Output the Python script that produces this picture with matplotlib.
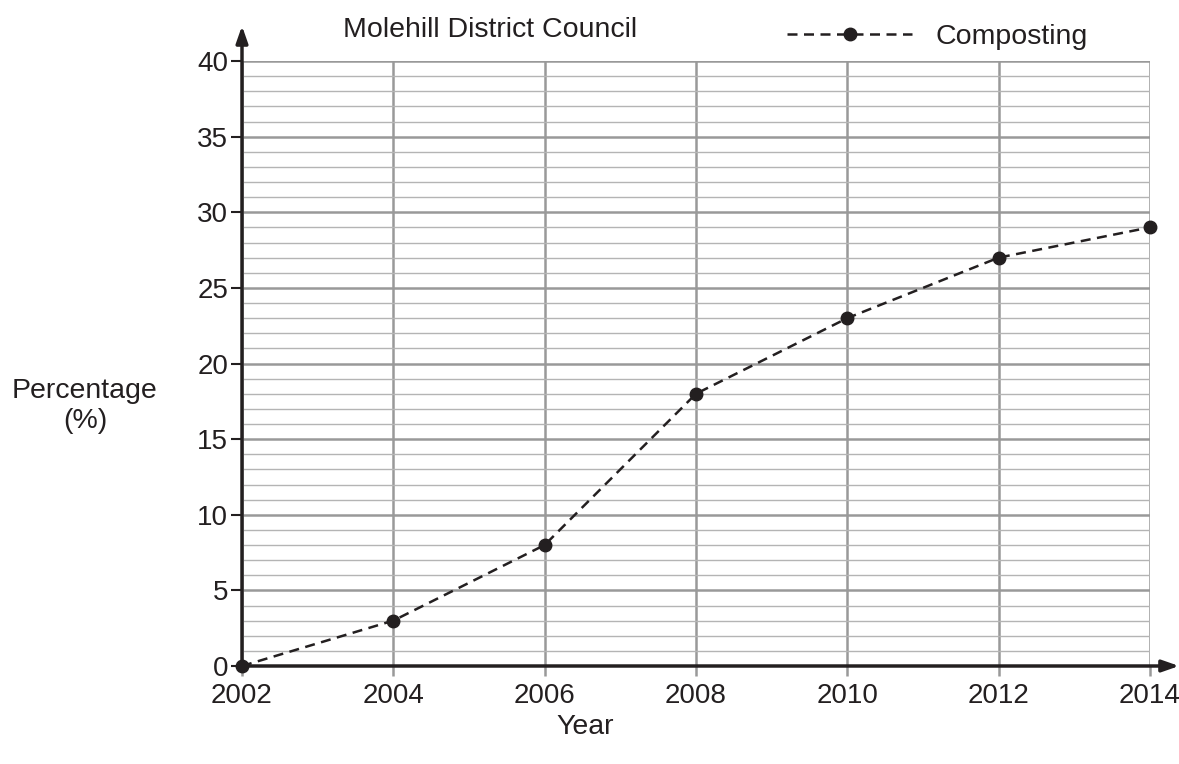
import matplotlib
matplotlib.use("Agg")
from matplotlib import pyplot as plt
from matplotlib.ticker import MultipleLocator

years = [2002, 2004, 2006, 2008, 2010, 2012, 2014]
composting = [0, 3, 8, 18, 23, 27, 29]
y_ticks = [0, 5, 10, 15, 20, 25, 30, 35, 40]

plt.rcParams['font.family'] = ['Liberation Sans', 'DejaVu Sans']

W, H = 1179, 764
fig = plt.figure(figsize=(W / 100, H / 100), dpi=100)
left, right, top, bottom = 242, 1150, 61, 666
ax = fig.add_axes([left / W, 1 - bottom / H, (right - left) / W, (bottom - top) / H])

ax.set_xlim(2002, 2014)
ax.set_ylim(0, 40)

# grid: minor every 1%, major every 5%, vertical every 2 years
ax.yaxis.set_minor_locator(MultipleLocator(1))
ax.set_yticks(y_ticks)
ax.set_xticks(years)
ax.grid(which='minor', axis='y', color='#b4b4b4', linewidth=1.0)
ax.grid(which='major', axis='y', color='#999999', linewidth=1.8)
ax.grid(which='major', axis='x', color='#999999', linewidth=1.8)
ax.set_axisbelow(True)

for s in ['top', 'right', 'left', 'bottom']:
    ax.spines[s].set_visible(False)

ax.tick_params(axis='y', which='major', length=8, width=1.5, color='#231f20',
               labelsize=20, pad=2, labelcolor='#231f20')
ax.tick_params(axis='y', which='minor', length=0)
ax.tick_params(axis='x', length=7, width=1.8, color='#999999',
               labelsize=20, pad=5, labelcolor='#231f20')

# axis arrows
ax.annotate('', xy=(0, 1.058), xytext=(0, 0), xycoords='axes fraction',
            arrowprops=dict(arrowstyle='-|>,head_length=1.0,head_width=0.35',
                            color='#231f20', lw=2.5, shrinkA=0, shrinkB=0))
ax.annotate('', xy=(1.032, 0), xytext=(0, 0), xycoords='axes fraction',
            arrowprops=dict(arrowstyle='-|>,head_length=1.0,head_width=0.35',
                            color='#231f20', lw=2.5, shrinkA=0, shrinkB=0))

ax.plot(years, composting, color='#231f20', linestyle=(0, (4, 2.6)), linewidth=1.8,
        marker='o', markersize=9, clip_on=False, zorder=5, label='Composting')

fig.text(490 / W, 1 - 30 / H, 'Molehill District Council', fontsize=20.5,
         ha='center', va='center', color='#231f20')
fig.text(85 / W, 1 - 406 / H, 'Percentage\n(%)', fontsize=20.5, ha='center',
         va='center', color='#231f20', linespacing=1.15)
fig.text(585 / W, 1 - 727 / H, 'Year', fontsize=20.5, ha='center', va='center',
         color='#231f20')

leg = fig.legend(loc='center left', bbox_to_anchor=(787 / W, 1 - 37 / H),
                 frameon=False, fontsize=20.5, handlelength=4.4, handletextpad=0.8,
                 borderpad=0, borderaxespad=0, labelcolor='#231f20')

fig.savefig('out.png', dpi=100)
